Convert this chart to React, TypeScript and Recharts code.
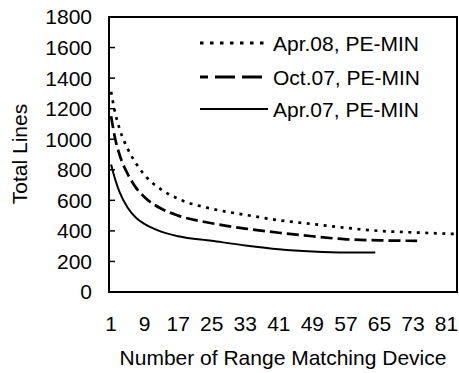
import { LineChart, Line, XAxis, YAxis, ReferenceArea } from "recharts"

const seriesNames = ["Apr.08, PE-MIN", "Oct.07, PE-MIN", "Apr.07, PE-MIN"]

// Apr.08 (dotted)
const apr08X = [1, 2, 3, 5, 7, 9, 13, 17, 25, 33, 41, 49, 57, 65, 73, 83]
const apr08Y = [1310, 1170, 1070, 935, 840, 765, 670, 610, 545, 505, 470, 445, 420, 400, 390, 380]

// Oct.07 (dashed)
const oct07X = [1, 2, 3, 5, 7, 9, 13, 17, 25, 33, 41, 49, 57, 65, 74]
const oct07Y = [1150, 1000, 900, 770, 680, 620, 545, 500, 450, 415, 388, 365, 345, 338, 335]

// Apr.07 (solid)
const apr07X = [1, 2, 3, 5, 7, 9, 12, 17, 25, 33, 41, 49, 57, 64]
const apr07Y = [835, 735, 655, 550, 485, 445, 405, 365, 335, 305, 280, 265, 258, 258]

const xTicks = [1, 9, 17, 25, 33, 41, 49, 57, 65, 73, 81]
const yTicks = [0, 200, 400, 600, 800, 1000, 1200, 1400, 1600, 1800]

const toRows = (xs: number[], ys: number[]) => xs.map((x, i) => ({ x, y: ys[i] }))

const apr08Data = toRows(apr08X, apr08Y)
const oct07Data = toRows(oct07X, oct07Y)
const apr07Data = toRows(apr07X, apr07Y)

const FONT = "Arial, 'Liberation Sans', sans-serif"
const FS = 21

// legend drawn as an overlay so it does not take room from the plot
function ChartLegend() {
  const rows = [
    { name: seriesNames[0], dash: "3.5 6.5", width: 3, x2: 268, offset: 0 },
    { name: seriesNames[1], dash: "20 7", width: 3, x2: 262, offset: 12 },
    { name: seriesNames[2], dash: undefined, width: 2, x2: 268, offset: 0 },
  ]
  const ys = [18, 52, 84]
  return (
    <svg width={262} height={100} style={{ position: "absolute", left: 195, top: 25 }}>
      {rows.map((r, i) => (
        <g key={r.name}>
          <line
            x1={5}
            x2={r.x2 - 195}
            y1={ys[i]}
            y2={ys[i]}
            stroke="#000"
            strokeWidth={r.width}
            strokeDasharray={r.dash}
            strokeDashoffset={r.offset}
          />
          <text x={78} y={ys[i]} dominantBaseline="central" fontSize={FS} fontFamily={FONT} fill="#000">
            {r.name}
          </text>
        </g>
      ))}
    </svg>
  )
}

export default function App() {
  return (
    <div style={{ position: "absolute", left: 0, top: 0, width: 459, height: 373, background: "#fff" }}>
      <LineChart width={459} height={373} margin={{ top: 17, right: 2, bottom: 0, left: 0 }}>
        <XAxis
          dataKey="x"
          type="number"
          domain={[0.5, 83.5]}
          ticks={xTicks}
          interval={0}
          allowDataOverflow
          height={81}
          tickLine={false}
          tickSize={0}
          tickMargin={24}
          axisLine={{ stroke: "#000", strokeWidth: 2 }}
          tick={{ fill: "#000", fontSize: FS, fontFamily: FONT }}
        />
        <YAxis
          type="number"
          domain={[0, 1800]}
          ticks={yTicks}
          interval={0}
          width={109}
          tickSize={-6}
          tickMargin={23}
          tickLine={{ stroke: "#000", strokeWidth: 1.5 }}
          axisLine={{ stroke: "#000", strokeWidth: 2 }}
          tick={{ fill: "#000", fontSize: FS, fontFamily: FONT }}
        />
        <ReferenceArea x1={0.5} x2={83.5} y1={0} y2={1800} fill="none" stroke="#000" strokeWidth={2} />
        <Line
          data={apr08Data}
          dataKey="y"
          name={seriesNames[0]}
          type="monotone"
          stroke="#000"
          strokeWidth={2.7}
          strokeDasharray="3 5.5"
          dot={false}
          isAnimationActive={false}
        />
        <Line
          data={oct07Data}
          dataKey="y"
          name={seriesNames[1]}
          type="monotone"
          stroke="#000"
          strokeWidth={2.7}
          strokeDasharray="12 5"
          dot={false}
          isAnimationActive={false}
        />
        <Line
          data={apr07Data}
          dataKey="y"
          name={seriesNames[2]}
          type="monotone"
          stroke="#000"
          strokeWidth={2}
          dot={false}
          isAnimationActive={false}
        />
      </LineChart>
      <ChartLegend />
      <div
        style={{
          position: "absolute",
          left: 20,
          top: 154,
          transform: "translate(-50%, -50%) rotate(-90deg)",
          fontFamily: FONT,
          fontSize: FS,
          whiteSpace: "nowrap",
          color: "#000",
        }}
      >
        Total Lines
      </div>
      <div
        style={{
          position: "absolute",
          left: 283,
          top: 358,
          transform: "translate(-50%, -50%)",
          fontFamily: FONT,
          fontSize: FS,
          whiteSpace: "nowrap",
          color: "#000",
        }}
      >
        Number of Range Matching Device
      </div>
    </div>
  )
}
